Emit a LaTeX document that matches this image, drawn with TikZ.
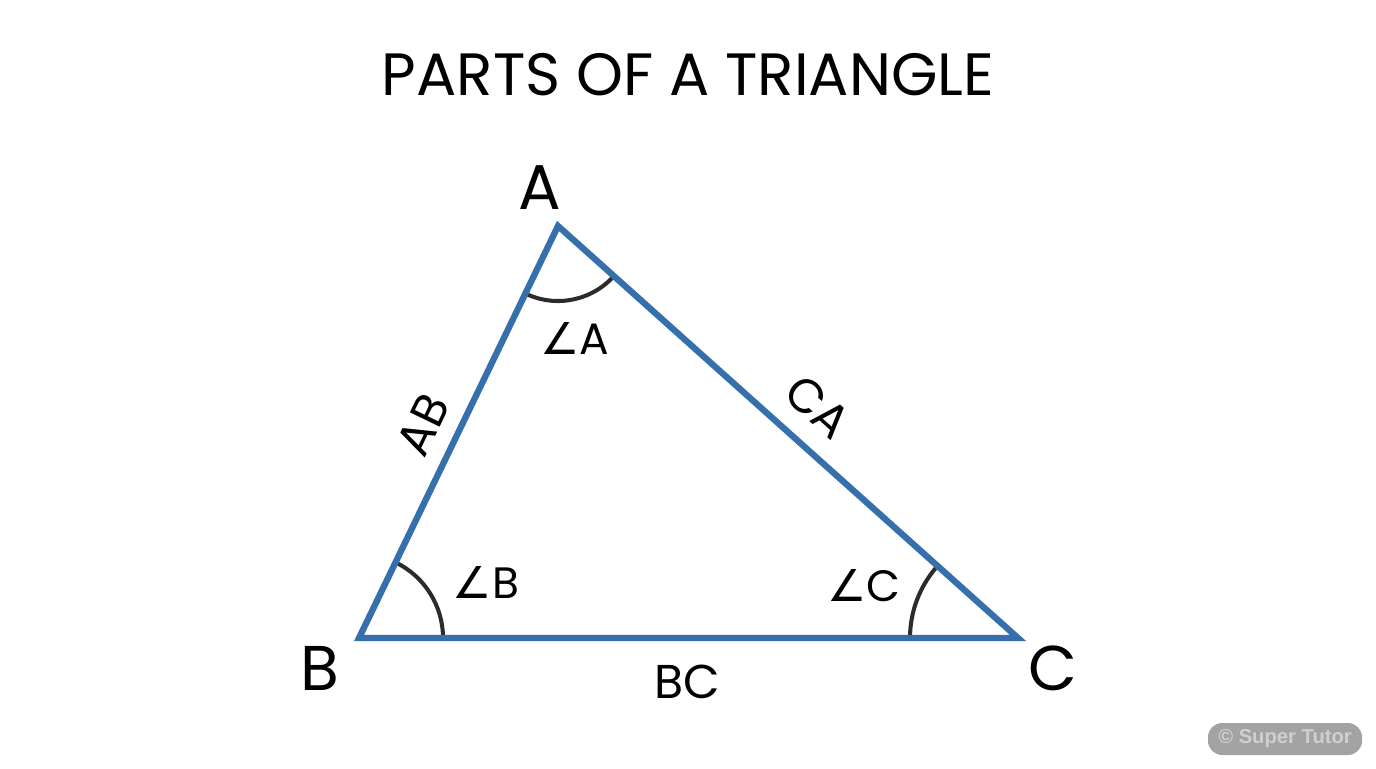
\documentclass[tikz,border=0pt]{standalone}
\usepackage{fontspec}
\setmainfont{Poppins}
\newfontfamily\symfont{DejaVu Sans}
\newfontfamily\markfont{Liberation Sans}
\definecolor{sideblue}{HTML}{3570AD}
\definecolor{arcgrey}{HTML}{2B2B2B}
\definecolor{tagfill}{HTML}{A3A3A3}
\definecolor{tagtext}{HTML}{CFCFCF}
\newcommand{\ang}[1]{{\symfont\char"2220}#1}
\tikzset{
  side/.style={draw=sideblue,line width=3.6pt,line join=miter,line cap=round},
  anglearc/.style={draw=arcgrey,line width=2.3pt},
  vertexlabel/.style={font=\fontsize{36}{40}\selectfont},
  sidelabel/.style={font=\fontsize{27}{30}\selectfont},
  anglelabel/.style={font=\fontsize{25}{30}\selectfont}
}
\begin{document}
\begin{tikzpicture}[x=0.02cm,y=-0.02cm]
\useasboundingbox (0,0) rectangle (1376,768);
		\coordinate (A) at (558,226);
		\coordinate (B) at (359,638);
		\coordinate (C) at (1018,638);
		% title
		\node (title) at (688,75) {\fontsize{34}{38}\selectfont PARTS OF A TRIANGLE};
		% angles
		\draw[anglearc] (A) ++(244.2:75 and -75) arc[start angle=244.2,end angle=318.2,x radius=75,y radius=-75];
		\draw[anglearc] (B) ++(0:84) arc[start angle=0,end angle=64.2,x radius=84,y radius=-84];
		\draw[anglearc] (C) ++(138.2:108 and -108) arc[start angle=138.2,end angle=180,x radius=108,y radius=-108];
		% sides
		\draw[side] (A) -- (B) -- (C) -- cycle;
		% labels
		\node[vertexlabel] (la) at (540,188) {A};
		\node[vertexlabel] (lb) at (320,668) {B};
		\node[vertexlabel] (lc) at (1053,668) {C};
		\node[sidelabel,rotate=64.2] (lab) at (423,425) {AB};
		\node[sidelabel,rotate=-41.8] (lca) at (818,407) {CA};
		\node[sidelabel] (lbc) at (687,682) {BC};
		\node[anglelabel] (aa) at (575,338) {\ang{A}};
		\node[anglelabel] (ab) at (486,582) {\ang{B}};
		\node[anglelabel] (ac) at (864,586) {\ang{C}};
		% watermark
		\node[fill=tagfill,rounded corners=8pt,minimum width=154*0.02cm,minimum height=32*0.02cm,inner sep=0pt,
		  text=tagtext,font=\markfont\bfseries\fontsize{11.5}{14}\selectfont] (tag) at (1285,739) {© Super Tutor};
\end{tikzpicture}
\end{document}
